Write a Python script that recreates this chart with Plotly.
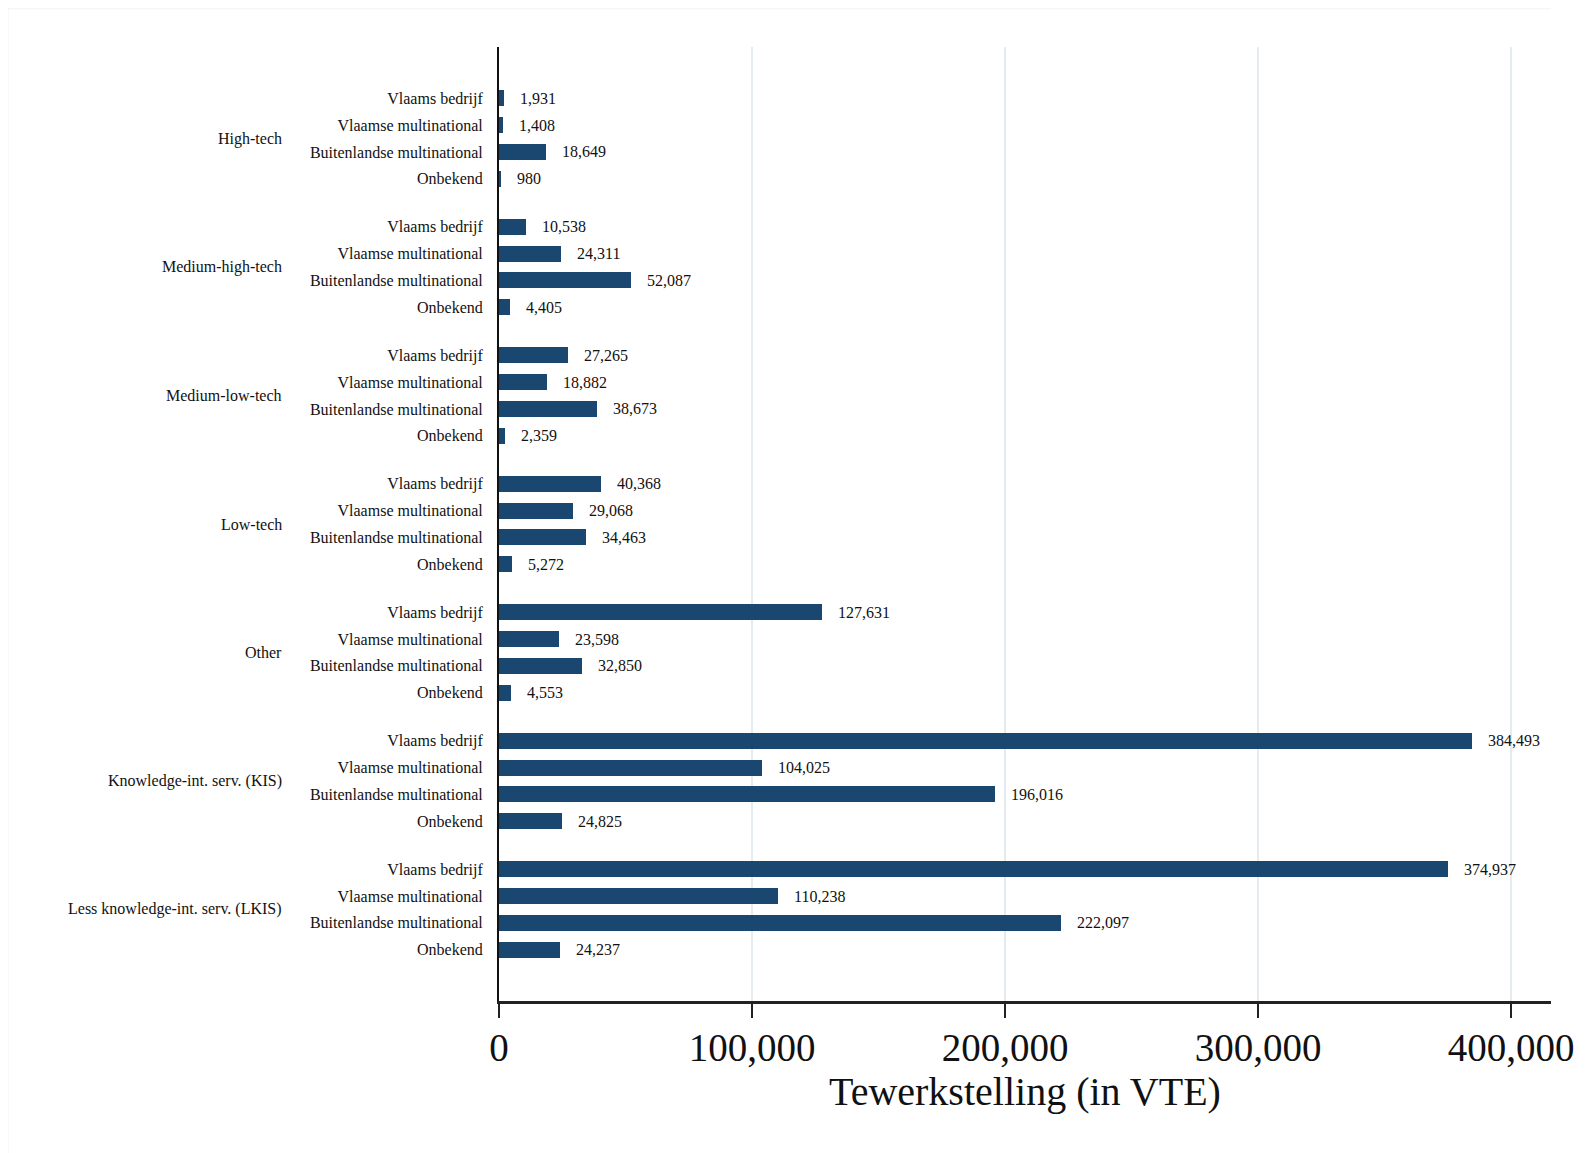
import plotly.graph_objects as go

groups = ["High-tech", "Medium-high-tech", "Medium-low-tech", "Low-tech", "Other",
          "Knowledge-int. serv. (KIS)", "Less knowledge-int. serv. (LKIS)"]
owners = ["Vlaams bedrijf", "Vlaamse multinational", "Buitenlandse multinational", "Onbekend"]

high_tech = [1931, 1408, 18649, 980]
medium_high_tech = [10538, 24311, 52087, 4405]
medium_low_tech = [27265, 18882, 38673, 2359]
low_tech = [40368, 29068, 34463, 5272]
other = [127631, 23598, 32850, 4553]
kis = [384493, 104025, 196016, 24825]
lkis = [374937, 110238, 222097, 24237]

series = [high_tech, medium_high_tech, medium_low_tech, low_tech, other, kis, lkis]

x_ticks = [0, 100000, 200000, 300000, 400000]
x_title = "Tewerkstelling (in VTE)"

GROUP_STRIDE = 4.8
FONT = "Liberation Serif"
BAR_COLOR = "#1a476f"

ys, xs, tick_text = [], [], []
for g, vals in enumerate(series):
    for j, v in enumerate(vals):
        ys.append(g * GROUP_STRIDE + j)
        xs.append(v)
        tick_text.append(owners[j])

fig = go.Figure()
fig.add_trace(go.Bar(
    x=xs, y=ys, orientation="h", width=0.6,
    marker=dict(color=BAR_COLOR, line=dict(width=0)),
    hoverinfo="skip",
))

annotations = []
for x, y in zip(xs, ys):
    annotations.append(dict(
        x=x, y=y, xref="x", yref="y", text=f"{x:,}", showarrow=False,
        xanchor="left", yanchor="middle", xshift=14,
        font=dict(family=FONT, size=16, color="#111111"),
    ))
for g, name in enumerate(groups):
    annotations.append(dict(
        x=-0.204, y=g * GROUP_STRIDE + 1.5, xref="paper", yref="y", text=name,
        showarrow=False, xanchor="right", yanchor="middle",
        font=dict(family=FONT, size=16, color="#111111"),
    ))
annotations.append(dict(
    x=0.5, y=-0.095, xref="paper", yref="paper", text=x_title, showarrow=False,
    xanchor="center", yanchor="middle",
    font=dict(family=FONT, size=40, color="#111111"),
))

y_top = -1.92
y_bot = (len(groups) - 1) * GROUP_STRIDE + 3 + 1.92

fig.update_layout(
    width=1579, height=1145,
    margin=dict(l=491, r=36, t=39, b=152),
    paper_bgcolor="white", plot_bgcolor="white",
    showlegend=False,
    bargap=0,
    annotations=annotations,
    shapes=[
        dict(type="line", xref="paper", yref="paper", x0=-0.4667, x1=-0.4667, y0=-0.2, y1=1.04,
             line=dict(color="#f1f3f3", width=1)),
        dict(type="line", xref="paper", yref="paper", x0=-0.4667, x1=1.0, y0=1.04, y1=1.04,
             line=dict(color="#f1f3f3", width=1)),
    ],
    xaxis=dict(
        range=[0, 415800],
        tickvals=x_ticks,
        ticktext=[f"{t:,}" for t in x_ticks],
        tickfont=dict(family=FONT, size=39, color="#111111"),
        ticklabelstandoff=-4,
        ticks="outside", ticklen=14, tickwidth=2, tickcolor="#222222",
        showline=True, linecolor="#222222", linewidth=3,
        showgrid=True, gridcolor="#e4ecef", gridwidth=2,
        zeroline=False,
        fixedrange=True,
    ),
    yaxis=dict(
        range=[y_bot, y_top],
        tickvals=ys, ticktext=tick_text,
        tickfont=dict(family=FONT, size=16, color="#111111"),
        ticks="outside", ticklen=11, tickcolor="rgba(0,0,0,0)",
        showline=True, linecolor="#111111", linewidth=2,
        showgrid=False, zeroline=False,
        fixedrange=True,
    ),
)

fig.write_html("out.html")
